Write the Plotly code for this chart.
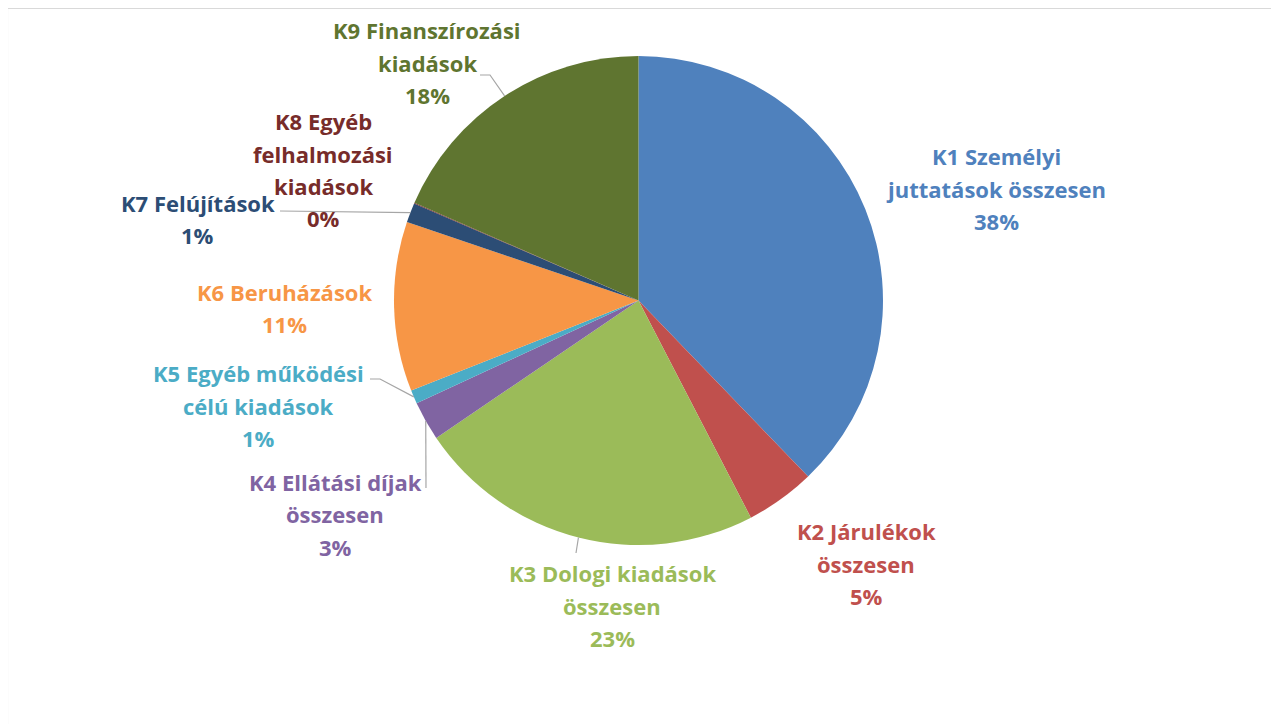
import math
import plotly.graph_objects as go

# ---- data ----
categories = [
    "K1 Személyi|juttatások összesen",
    "K2 Járulékok|összesen",
    "K3 Dologi kiadások|összesen",
    "K4 Ellátási díjak|összesen",
    "K5 Egyéb működési|célú kiadások",
    "K6 Beruházások",
    "K7 Felújítások",
    "K8 Egyéb|felhalmozási|kiadások",
    "K9 Finanszírozási|kiadások",
]
values = [37.8, 4.6, 23.1, 2.6, 0.9, 11.2, 1.3, 0.05, 18.45]
colors = ["#4F81BD", "#C0504D", "#9BBB59", "#8064A2", "#4BACC6",
          "#F79646", "#2C4D75", "#772C2A", "#5F7530"]

# ---- layout constants (pixels, page coordinates) ----
OFF = 8  # default body margin of the html page
W, H = 1279 - OFF, 724 - OFF
CX, CY, R = 638.5, 300.5, 244.5
LINE_GAP = 32.5
FONT_SIZE = 22
# label block: centre x, y of first line
label_pos = [
    (996, 156), (866, 531), (612, 573), (335, 482), (258, 373),
    (284, 292), (198, 203), (323, 121), (427, 30),
]
# leader lines: label-side points (pixels); last point is the slice middle
leaders = {
    2: [(576, 553)],
    3: [(426, 488)],
    4: [(370, 379), (380, 379)],
    6: [(280, 211)],
    8: [(480, 75), (490, 75)],
}


def px(x):
    return (x - OFF) / W


def py(y):
    return 1 - (y - OFF) / H


fig = go.Figure(go.Pie(
    labels=[c.replace("|", " ") for c in categories],
    values=values,
    sort=False,
    direction="clockwise",
    rotation=0,
    marker=dict(colors=colors, line=dict(width=0)),
    textinfo="none",
    hoverinfo="label+percent",
    showlegend=False,
    domain=dict(x=[px(CX - R), px(CX + R)], y=[py(CY + R), py(CY - R)]),
))

total = sum(values)
annotations = []
shapes = []
cum = 0.0
for i, (cat, v) in enumerate(zip(categories, values)):
    mid = (cum + v / 2) / total * 2 * math.pi
    cum += v
    lines = cat.split("|") + [f"{round(v / total * 100)}%"]
    lx, ly = label_pos[i]
    for k, ln in enumerate(lines):
        annotations.append(dict(
            x=px(lx), y=py(ly + k * LINE_GAP), xref="paper", yref="paper",
            text=f"<b>{ln}</b>", showarrow=False, xanchor="center", yanchor="middle",
            font=dict(family="'Open Sans', Lato, sans-serif", size=FONT_SIZE, color=colors[i]),
        ))
    if i in leaders:
        pts = leaders[i] + [(CX + R * math.sin(mid), CY - R * math.cos(mid))]
        path = "M " + " L ".join(f"{px(x)},{py(y)}" for x, y in pts)
        shapes.append(dict(type="path", xref="paper", yref="paper", path=path,
                           line=dict(color="#A6A6A6", width=1.2)))

# chart border
shapes.append(dict(type="rect", xref="paper", yref="paper",
                   x0=px(7.5), x1=px(1300), y0=py(760), y1=py(8.5),
                   line=dict(color="#D9D9D9", width=1.2)))

fig.update_layout(
    width=W, height=H,
    margin=dict(l=0, r=0, t=0, b=0),
    paper_bgcolor="white", plot_bgcolor="white",
    annotations=annotations, shapes=shapes,
)
fig.write_html("out.html")
